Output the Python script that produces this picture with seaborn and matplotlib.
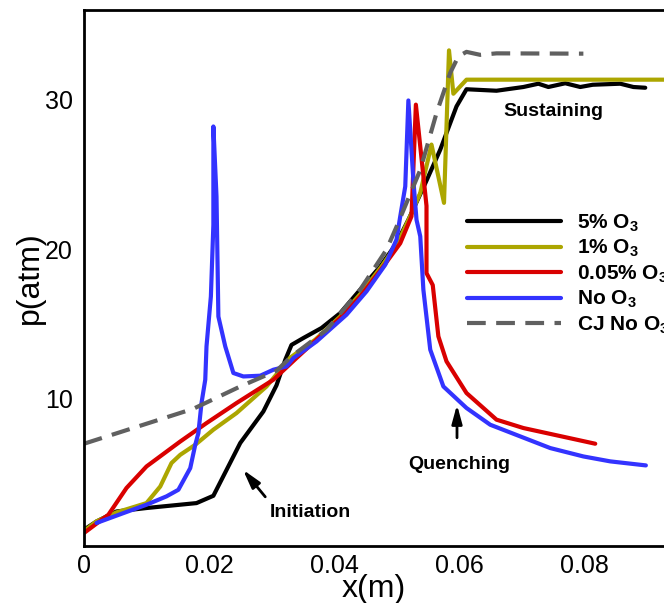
import matplotlib
matplotlib.use('Agg')
import matplotlib.pyplot as plt
import seaborn as sns
import pandas as pd
from matplotlib.ticker import MultipleLocator

# pressure along the tube
black_x = [0, 0.002, 0.0052, 0.010, 0.018, 0.0207, 0.025, 0.0287, 0.0308, 0.0322, 0.0332, 0.0351,
           0.038, 0.041, 0.0442, 0.0474, 0.050, 0.0519, 0.0546, 0.057, 0.0586, 0.0596, 0.0612,
           0.066, 0.0703, 0.0727, 0.0743, 0.077, 0.0794, 0.0814, 0.0858, 0.0879, 0.0898]
black_p = [1.24, 1.79, 2.46, 2.69, 3.02, 3.51, 7.04, 9.15, 10.9, 12.6, 13.6, 14.06,
           14.73, 15.73, 17.3, 18.85, 20.4, 21.97, 24.4, 26.66, 28.44, 29.55, 30.7,
           30.6, 30.85, 31.07, 30.85, 31.1, 30.85, 31.0, 31.07, 30.85, 30.8]

yellow_x = [0, 0.002, 0.0052, 0.010, 0.0122, 0.014, 0.0154, 0.0178, 0.0207, 0.0244, 0.0292,
            0.033, 0.037, 0.041, 0.0442, 0.0477, 0.0503, 0.0524, 0.0538, 0.0556, 0.0576,
            0.0584, 0.0591, 0.0612, 0.093]
yellow_p = [1.15, 1.8, 2.4, 3.02, 4.13, 5.7, 6.25, 6.92, 7.93, 9.04, 10.82,
            12.75, 13.95, 15.5, 17.0, 18.9, 20.5, 22.4, 23.76, 27.0, 23.1,
            33.3, 30.4, 31.34, 31.34]

red_x = [0, 0.0039, 0.0068, 0.010, 0.0154, 0.0196, 0.0244, 0.0303, 0.034, 0.0372, 0.041,
         0.0442, 0.0479, 0.0506, 0.0524, 0.0531, 0.0548, 0.0548, 0.0558, 0.0567, 0.058,
         0.0612, 0.066, 0.0703, 0.0818]
red_p = [1.02, 2.24, 4.03, 5.47, 7.14, 8.37, 9.71, 11.27, 12.72, 13.95, 15.4,
         16.84, 18.85, 20.4, 22.2, 29.67, 22.9, 18.4, 17.6, 14.17, 12.5,
         10.38, 8.6, 8.04, 6.99]

blue_x = [0.002, 0.0063, 0.010, 0.0132, 0.0151, 0.017, 0.0178, 0.0183, 0.0188, 0.0194, 0.0196,
          0.0203, 0.0207, 0.0207, 0.0212, 0.0215, 0.0226, 0.0239, 0.0255, 0.0282, 0.0303,
          0.0324, 0.0335, 0.0372, 0.042, 0.0452, 0.0482, 0.050, 0.0506, 0.0514, 0.0519,
          0.0527, 0.0532, 0.0538, 0.0543, 0.0554, 0.0575, 0.0612, 0.065, 0.0698, 0.0746,
          0.0799, 0.0842, 0.0899]
blue_p = [1.69, 2.35, 2.91, 3.47, 3.91, 5.36, 6.92, 7.7, 9.71, 11.27, 13.5,
          16.84, 21.64, 28.21, 23.53, 15.5, 13.5, 11.72, 11.49, 11.54, 11.94,
          12.16, 12.72, 13.83, 15.62, 17.18, 18.96, 20.64, 22.2, 24.2, 29.95,
          24.6, 21.97, 20.86, 17.29, 13.28, 10.82, 9.38, 8.26, 7.48, 6.7,
          6.14, 5.81, 5.54]

cj_x = [0, 0.0175, 0.025, 0.0308, 0.0332, 0.0388, 0.0442, 0.0484, 0.050, 0.0538, 0.0564,
        0.0586, 0.0599, 0.0612, 0.0634, 0.066, 0.0799]
cj_p = [6.99, 9.33, 10.82, 11.87, 12.83, 14.6, 17.3, 19.97, 21.5, 25.3, 29.1,
        31.8, 32.9, 33.2, 33.0, 33.1, 33.08]

labels = [r'5% O$_\mathbf{3}$', r'1% O$_\mathbf{3}$', r'0.05% O$_\mathbf{3}$',
          r'No O$_\mathbf{3}$', r'CJ No O$_\mathbf{3}$']
colors = ['#000000', '#aca600', '#d90000', '#3333ff', '#606060']
xtick_labels = ['0', '0.02', '0.04', '0.06', '0.08']

series = [(black_x, black_p), (yellow_x, yellow_p), (red_x, red_p), (blue_x, blue_p), (cj_x, cj_p)]
frames = []
for lab, (xs, ps) in zip(labels, series):
    frames.append(pd.DataFrame({'x': xs, 'p': ps, 'case': lab}))
df = pd.concat(frames, ignore_index=True)

sns.set_style('white')
plt.rcParams['font.family'] = ['Liberation Sans', 'DejaVu Sans']
plt.rcParams['mathtext.fontset'] = 'custom'
plt.rcParams['mathtext.rm'] = 'Liberation Sans'
plt.rcParams['mathtext.bf'] = 'Liberation Sans:bold'
plt.rcParams['mathtext.it'] = 'Liberation Sans:italic'
plt.rcParams['text.color'] = 'black'
plt.rcParams['axes.labelcolor'] = 'black'
plt.rcParams['xtick.color'] = 'black'
plt.rcParams['ytick.color'] = 'black'

fig = plt.figure(figsize=(6.64, 6.03), dpi=100)
ax = fig.add_axes([84 / 664, 57 / 603, 580 / 664, 536 / 603])

dashes = {lab: '' for lab in labels}
dashes[labels[-1]] = (4.5, 2.5)
sns.lineplot(data=df, x='x', y='p', hue='case', style='case', palette=dict(zip(labels, colors)),
             dashes=dashes, estimator=None, sort=False, lw=3, ax=ax)

ax.set_xlim(0, 0.0928)
ax.set_ylim(0.15, 36.0)
ax.set_xticks([0, 0.02, 0.04, 0.06, 0.08])
ax.set_xticklabels(xtick_labels)
ax.set_yticks([10, 20, 30])
ax.xaxis.set_minor_locator(MultipleLocator(0.005))
ax.yaxis.set_minor_locator(MultipleLocator(2))
ax.tick_params(which='both', direction='in', width=2, labelsize=18, top=False, right=False)
ax.tick_params(which='major', length=10)
ax.tick_params(axis='x', which='major', pad=6)
ax.tick_params(axis='y', which='major', pad=8)
ax.tick_params(which='minor', length=6)
for side in ['left', 'bottom', 'top']:
    ax.spines[side].set_linewidth(2)
    ax.spines[side].set_color('black')
ax.spines['right'].set_visible(False)

ax.set_xlabel('x(m)', fontsize=23, labelpad=-3)
ax.set_ylabel('p(atm)', fontsize=23, labelpad=0)

handles, labs = ax.get_legend_handles_labels()
leg = ax.legend(handles, labs, loc='center left', bbox_to_anchor=(467 / 664, 1 - 274 / 603),
                bbox_transform=fig.transFigure, frameon=False, handlelength=4.5,
                handletextpad=0.8, labelspacing=0.2, borderpad=0, borderaxespad=0,
                prop={'size': 15, 'weight': 'bold'})
for line in leg.get_lines():
    line.set_linewidth(3)

ax.text(0.07504, 29.2, 'Sustaining', fontsize=14, fontweight='bold', ha='center', va='center')
ax.text(0.03616, 2.37, 'Initiation', fontsize=14, fontweight='bold', ha='center', va='center')
ax.text(0.0600, 5.59, 'Quenching', fontsize=14, fontweight='bold', ha='center', va='center')
arrow = dict(arrowstyle='-|>,head_length=0.8,head_width=0.22', color='black', lw=2,
             mutation_scale=14, shrinkA=0, shrinkB=0)
ax.annotate('', xy=(0.02544, 5.25), xytext=(0.0290, 3.44), arrowprops=arrow)
ax.annotate('', xy=(0.05968, 9.6), xytext=(0.05968, 7.39), arrowprops=arrow)

fig.savefig('out.png', dpi=100)
